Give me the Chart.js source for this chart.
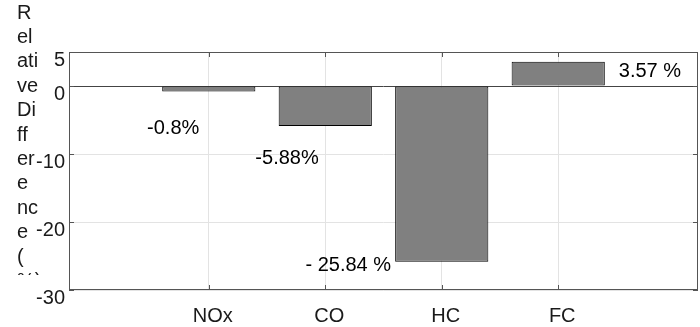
<!DOCTYPE html>
<html>
<head>
<meta charset="utf-8">
<script src="https://cdn.jsdelivr.net/npm/chart.js@4"></script>
<style>
  html, body { margin: 0; padding: 0; background: #fff; }
  #wrap { width: 700px; height: 327px; }
</style>
</head>
<body>
<div id="wrap"><canvas id="chart" width="700" height="327"></canvas></div>
<script>
// Data
const categories = ['NOx', 'CO', 'HC', 'FC'];
const diffValues = [-0.8, -5.88, -25.84, 3.57];
const diffLabels = ['-0.8%', '-5.88%', '- 25.84 %', '3.57 %'];
const yTicks = [-30, -20, -10, 0, 5];
const xTicks = [1, 2, 3, 4];

// where the text annotations sit (data units)
const labelX = [0.47, 1.40, 1.83, 4.52];
const labelY = [-6.3, -10.6, -26.4, 2.2];

const yTitleLines = ['R', 'el', 'ati', 've', 'Di', 'ff', 'er', 'e', 'nc', 'e', '(', '%)'];

const FONT = '"Liberation Sans", Arial, Helvetica, sans-serif';
const axisColor = '#555555';

Chart.defaults.font.family = FONT;
Chart.defaults.font.size = 20;
Chart.defaults.color = '#1a1a1a';

// inward ticks, box, y title and value labels
const matlabLook = {
    id: 'matlabLook',
    afterDraw(chart) {
        const ctx = chart.ctx;
        const area = chart.chartArea;
        const x = chart.scales.x;
        const y = chart.scales.y;
        ctx.save();

        // box
        ctx.strokeStyle = axisColor;
        ctx.lineWidth = 1;
        ctx.strokeRect(area.left + 0.5, area.top + 0.5, area.right - area.left - 1, area.bottom - area.top - 1);

        // tick marks pointing inwards
        const tl = 5;
        ctx.beginPath();
        xTicks.forEach(v => {
            const px = Math.round(x.getPixelForValue(v)) + 0.5;
            ctx.moveTo(px, area.bottom);
            ctx.lineTo(px, area.bottom - tl);
            ctx.moveTo(px, area.top);
            ctx.lineTo(px, area.top + tl);
        });
        yTicks.forEach(v => {
            const py = Math.round(y.getPixelForValue(v)) + 0.5;
            ctx.moveTo(area.left, py);
            ctx.lineTo(area.left + tl, py);
            ctx.moveTo(area.right, py);
            ctx.lineTo(area.right - tl, py);
        });
        ctx.stroke();

        // value labels
        ctx.fillStyle = '#000';
        ctx.font = '20px ' + FONT;
        ctx.textAlign = 'left';
        ctx.textBaseline = 'middle';
        diffLabels.forEach((t, i) => {
            ctx.fillText(t, x.getPixelForValue(labelX[i]), y.getPixelForValue(labelY[i]));
        });

        // y title, broken up and cut off like the original
        ctx.beginPath();
        ctx.rect(0, 0, 70, 275);
        ctx.clip();
        ctx.fillStyle = '#1a1a1a';
        yTitleLines.forEach((t, i) => {
            ctx.fillText(t, 17, 13 + i * 24.4);
        });
        ctx.restore();
    }
};

new Chart(document.getElementById('chart'), {
    type: 'bar',
    data: {
        datasets: [{
            data: categories.map((c, i) => ({ x: xTicks[i], y: diffValues[i] })),
            backgroundColor: '#808080',
            borderColor: '#000000',
            borderWidth: 1,
            borderSkipped: false,
            barPercentage: 1,
            categoryPercentage: 0.8
        }]
    },
    options: {
        responsive: false,
        animation: false,
        layout: { padding: { top: 52, right: 2, left: 0, bottom: 0 } },
        plugins: {
            legend: { display: false },
            tooltip: { enabled: false }
        },
        scales: {
            x: {
                type: 'linear',
                offset: false,
                min: -0.2,
                max: 5.2,
                afterBuildTicks: s => { s.ticks = xTicks.map(v => ({ value: v })); },
                afterFit: s => { s.height = 37; },
                grid: { color: '#e3e3e3', drawTicks: false, offset: false },
                border: { display: false },
                ticks: {
                    padding: 14,
                    labelOffset: 4,
                    maxRotation: 0,
                    callback: v => categories[xTicks.indexOf(v)] || ''
                }
            },
            y: {
                min: -30,
                max: 5,
                afterBuildTicks: s => { s.ticks = yTicks.map(v => ({ value: v })); },
                afterFit: s => { s.width = 69; },
                grid: {
                    color: c => (c.tick && c.tick.value === 0) ? '#444444' : '#e3e3e3',
                    drawTicks: false
                },
                border: { display: false },
                ticks: {
                    padding: 4,
                    labelOffset: 8
                }
            }
        }
    },
    plugins: [matlabLook]
});
</script>
</body>
</html>
